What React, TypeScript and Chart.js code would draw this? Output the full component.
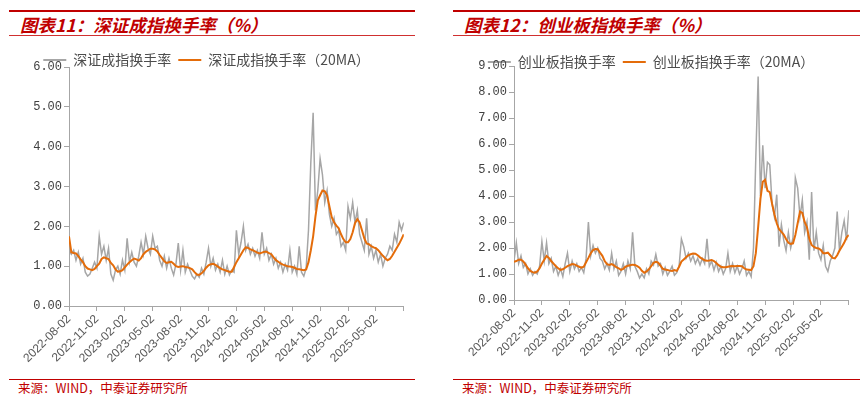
import React, { useEffect, useRef } from 'react';
import { Chart, registerables } from 'chart.js';

Chart.register(...registerables);

// points per quarter (x axis is measured in quarters since 2022-08-02)
const POINTS_PER_QUARTER = 12;

const xTickLabels = [
  '2022-08-02', '2022-11-02', '2023-02-02', '2023-05-02', '2023-08-02', '2023-11-02',
  '2024-02-02', '2024-05-02', '2024-08-02', '2024-11-02', '2025-02-02', '2025-05-02',
];

// 深证成指换手率 (%)
const szRaw = [
  1.4, 1.3, 1.4, 1.15, 1.35, 1.05, 1.2, 0.85, 0.75, 0.8, 0.95, 1.1,
  0.95, 1.75, 1.3, 1.5, 1.15, 1.45, 0.8, 0.65, 0.9, 1.0, 0.8, 1.15,
  0.9, 1.7, 1.1, 1.35, 1.1, 1.0, 1.25, 1.6, 1.3, 1.75, 1.45, 1.3,
  1.75, 1.45, 1.5, 1.15, 1.0, 1.25, 0.95, 1.2, 0.95, 0.78, 1.05, 1.58,
  0.9, 1.4, 0.85, 1.05, 0.9, 0.75, 0.68, 0.8, 0.72, 0.95, 0.8, 1.1,
  1.45, 1.0, 1.2, 0.9, 1.05, 0.85, 1.15, 0.8, 1.0, 0.78, 0.9, 0.85,
  1.9, 1.3, 1.6, 2.0, 1.4, 1.55, 1.3, 1.45, 1.25, 1.4, 1.2, 1.85,
  1.3, 1.45, 1.15, 1.3, 1.05, 1.2, 0.95, 1.1, 0.85, 1.05, 0.9, 1.4,
  0.85, 1.0, 0.8, 1.5, 0.85, 0.75, 0.95, 1.9, 3.6, 4.85, 2.4, 2.9,
  3.7, 3.3, 2.6, 2.9, 2.3, 2.0, 2.2, 1.8, 1.9, 1.5, 1.6, 1.4,
  2.5, 2.2, 2.6, 2.1, 2.4, 1.8, 1.6, 1.4, 2.2, 1.3, 1.5, 1.2,
  1.4, 1.1, 1.3, 1.0, 1.2, 1.3, 1.5, 1.4, 1.8, 1.6, 2.1, 1.9,
  2.1,
];

// 深证成指换手率 (20MA)
const szMA = [
  1.75, 1.35, 1.33, 1.32, 1.25, 1.17, 1.1, 1.0, 0.94, 0.92, 0.9, 0.93,
  1.0, 1.06, 1.18, 1.22, 1.2, 1.18, 1.08, 1.02, 0.92, 0.86, 0.87, 0.9,
  0.97, 1.04, 1.1, 1.15, 1.19, 1.17, 1.14, 1.2, 1.3, 1.36, 1.4, 1.44,
  1.44, 1.42, 1.37, 1.28, 1.2, 1.12, 1.08, 1.1, 1.11, 1.06, 1.0, 0.98,
  0.99, 1.0, 0.98, 0.97, 0.95, 0.92, 0.85, 0.79, 0.78, 0.82, 0.88, 0.96,
  1.02, 1.05, 1.06, 1.03, 0.99, 0.95, 0.92, 0.9, 0.88, 0.86, 0.86, 0.98,
  1.1, 1.2, 1.3, 1.4, 1.47, 1.46, 1.42, 1.4, 1.37, 1.34, 1.32, 1.34,
  1.36, 1.36, 1.33, 1.3, 1.22, 1.15, 1.11, 1.07, 1.04, 1.02, 1.0, 0.99,
  0.98, 0.96, 0.93, 0.92, 0.91, 0.9, 0.92, 1.1, 1.4, 1.75, 2.25, 2.65,
  2.78, 2.9, 2.88, 2.78, 2.5, 2.23, 2.1, 2.02, 1.95, 1.8, 1.68, 1.6,
  1.6, 1.68, 1.85, 2.08, 2.18, 2.1, 1.9, 1.7, 1.57, 1.55, 1.5, 1.47,
  1.45, 1.4, 1.33, 1.26, 1.2, 1.15, 1.18, 1.26, 1.36, 1.46, 1.56, 1.68,
  1.8,
];

// 创业板指换手率 (%)
const cybRaw = [
  1.5, 2.2, 1.4, 1.7, 1.25, 1.4, 1.0, 1.2, 0.95, 1.1, 1.0, 1.3,
  2.25, 1.5, 2.2, 1.4, 1.6, 1.1, 1.3, 0.95, 1.2, 0.9, 1.4, 1.8,
  1.1, 1.5, 1.2, 1.4, 1.1, 1.25, 1.05, 1.6, 3.0, 1.7, 2.1, 1.8,
  2.0, 1.6, 1.5, 1.2, 1.4, 1.15, 1.8, 1.2, 1.5, 0.95, 1.1, 1.4,
  1.0, 1.5, 1.2, 2.6, 1.3, 1.1, 0.85, 1.0, 0.85, 1.2, 1.0, 1.5,
  1.35, 1.75, 1.3, 1.4, 1.0, 1.25, 0.95, 1.1, 1.3, 0.95, 1.05, 1.3,
  2.35, 2.05, 1.6, 1.8, 1.5, 1.7, 1.4, 1.6, 1.35, 1.6, 1.4, 2.35,
  1.3, 1.5, 1.15, 1.45, 1.1, 1.3, 1.0, 1.2, 1.8, 1.1, 1.4, 1.05,
  1.3, 1.0, 1.2, 1.5, 0.95, 1.1, 0.9, 2.0, 5.5, 8.6, 4.0, 5.95,
  4.3, 5.3, 5.2, 3.7, 3.2, 4.05, 2.05, 2.9, 2.3, 1.9, 2.6, 2.0,
  2.4, 4.7, 4.3, 3.2, 3.85, 2.6, 3.0, 1.55, 4.15, 1.9, 2.6, 1.8,
  1.55, 2.1, 1.3, 1.1, 1.5, 1.7, 2.0, 3.4, 1.9, 2.6, 3.05, 2.3,
  3.45,
];

// 创业板指换手率 (20MA)
const cybMA = [
  1.47, 1.5, 1.55, 1.55, 1.48, 1.36, 1.22, 1.12, 1.07, 1.05, 1.1, 1.22,
  1.4, 1.55, 1.69, 1.62, 1.5, 1.4, 1.3, 1.22, 1.16, 1.18, 1.24, 1.3,
  1.34, 1.38, 1.37, 1.32, 1.28, 1.24, 1.28, 1.45, 1.62, 1.8, 1.92, 1.96,
  1.95, 1.82, 1.7, 1.5, 1.38, 1.35, 1.38, 1.33, 1.26, 1.22, 1.16, 1.2,
  1.28, 1.32, 1.34, 1.36, 1.35, 1.3, 1.24, 1.12, 1.05, 1.1, 1.18, 1.3,
  1.43, 1.47, 1.44, 1.32, 1.2, 1.17, 1.15, 1.13, 1.12, 1.15, 1.12, 1.28,
  1.48, 1.56, 1.64, 1.72, 1.76, 1.79, 1.78, 1.72, 1.64, 1.58, 1.53, 1.51,
  1.52, 1.54, 1.5, 1.42, 1.34, 1.28, 1.26, 1.26, 1.28, 1.3, 1.31, 1.3,
  1.31, 1.31, 1.3, 1.22, 1.17, 1.16, 1.15, 1.3, 1.8, 2.8, 3.9, 4.55,
  4.62, 4.2, 4.15, 3.7, 3.3, 2.95, 2.72, 2.62, 2.52, 2.35, 2.2, 2.16,
  2.18, 2.5, 2.95, 3.4, 3.35, 3.0, 2.8, 2.35, 2.12, 2.04, 2.0, 1.98,
  1.92, 1.8, 1.8, 1.82, 1.72, 1.62, 1.6, 1.72, 1.9, 2.05, 2.2, 2.4,
  2.5,
];

const RED = '#c00000';
const GRAY = '#a6a6a6';
const ORANGE = '#e46c0a';
const AXIS = '#a6a6a6';
const CJK = "'Noto Sans CJK SC', sans-serif";

type PanelProps = {
  left: number;
  width: number;
  title: string;
  rawName: string;
  maName: string;
  raw: number[];
  ma: number[];
  yMax: number;
  canvasTop: number;
  legendHeight: number;
  xAxisHeight: number;
  yAxisWidth: number;
};

function toPoints(values: number[]) {
  return values.map((y, i) => ({ x: i / POINTS_PER_QUARTER, y }));
}

// lets legend text overlap the top of the plot area (as in the reference) without clipping
const legendUnclip = {
  id: 'legendUnclip',
  afterLayout(chart: any) {
    const l = chart.legend;
    if (l) {
      l.height += 14;
      l.bottom += 14;
    }
  },
};

function Panel(p: PanelProps) {
  const ref = useRef<HTMLCanvasElement | null>(null);
  const canvasHeight = 372 - p.canvasTop;

  useEffect(() => {
    if (!ref.current) return;
    const chart = new Chart(ref.current, {
      type: 'line',
      data: {
        datasets: [
          {
            label: p.rawName,
            data: toPoints(p.raw),
            borderColor: GRAY,
            backgroundColor: GRAY,
            borderWidth: 1.5,
            pointRadius: 0,
            tension: 0,
            order: 2,
          },
          {
            label: p.maName,
            data: toPoints(p.ma),
            borderColor: ORANGE,
            backgroundColor: ORANGE,
            borderWidth: 2,
            pointRadius: 0,
            tension: 0,
            order: 1,
          },
        ],
      },
      plugins: [legendUnclip],
      options: {
        responsive: false,
        animation: false,
        devicePixelRatio: 1,
        layout: { padding: { top: 0, right: 11, bottom: 0, left: 0 } },
        plugins: {
          tooltip: { enabled: false },
          legend: {
            display: true,
            position: 'top',
            maxHeight: p.legendHeight,
            labels: {
              boxWidth: 23,
              boxHeight: 2,
              padding: 7,
              color: '#4d4d4d',
              font: { family: CJK, size: 14 },
              sort: (a: any, b: any) => a.datasetIndex - b.datasetIndex,
              generateLabels: (c: any) =>
                Chart.defaults.plugins.legend.labels
                  .generateLabels(c)
                  .map((l: any) => ({ ...l, lineWidth: 0, fillStyle: l.strokeStyle })),
            },
          },
        },
        scales: {
          x: {
            type: 'linear',
            min: 0,
            max: xTickLabels.length,
            afterFit: (s: any) => {
              s.height = p.xAxisHeight;
            },
            border: { color: AXIS, width: 1 },
            grid: { drawOnChartArea: false, drawTicks: true, tickLength: 5, tickColor: AXIS },
            ticks: {
              stepSize: 1,
              autoSkip: false,
              maxRotation: 45,
              minRotation: 45,
              padding: 1,
              color: '#595959',
              font: { family: "'Liberation Sans', Arial, sans-serif", size: 12 },
              callback: (v: any) => xTickLabels[Math.round(Number(v))] ?? '',
            },
          },
          y: {
            min: 0,
            max: p.yMax,
            afterFit: (s: any) => {
              s.width = p.yAxisWidth;
            },
            border: { color: AXIS, width: 1 },
            grid: { drawOnChartArea: false, drawTicks: true, tickLength: 5, tickColor: AXIS },
            ticks: {
              stepSize: 1,
              padding: 2,
              color: '#404040',
              font: { family: "'Liberation Mono', monospace", size: 12 },
              callback: (v: any) => Number(v).toFixed(2),
            },
          },
        },
      } as any,
    });
    return () => chart.destroy();
  }, []);

  return (
    <>
      <div style={{ position: 'absolute', left: p.left, top: 10, width: p.width, height: 2, background: RED }} />
      <div
        style={{
          position: 'absolute',
          left: p.left + 11,
          top: 15,
          height: 20,
          lineHeight: '20px',
          fontFamily: CJK,
          fontSize: 17.5,
          fontWeight: 700,
          fontStyle: 'italic',
          color: RED,
          whiteSpace: 'nowrap',
        }}
      >
        {p.title}
      </div>
      <div style={{ position: 'absolute', left: p.left, top: 35, width: p.width, height: 1, background: '#d03030' }} />
      <canvas
        ref={ref}
        width={p.width}
        height={canvasHeight}
        style={{ position: 'absolute', left: p.left, top: p.canvasTop, width: p.width, height: canvasHeight }}
      />
      <div style={{ position: 'absolute', left: p.left, top: 379, width: p.width, height: 1, background: RED }} />
      <div
        style={{
          position: 'absolute',
          left: p.left + 9,
          top: 381,
          height: 14,
          lineHeight: '14px',
          fontFamily: CJK,
          fontSize: 12.5,
          color: RED,
          whiteSpace: 'nowrap',
        }}
      >
        来源：WIND，中泰证券研究所
      </div>
    </>
  );
}

export default function App() {
  return (
    <div style={{ position: 'absolute', left: 0, top: 0, width: 865, height: 395, background: '#fff', overflow: 'hidden' }}>
      <Panel
        left={9}
        width={406}
        title="图表11：深证成指换手率（%）"
        rawName="深证成指换手率"
        maName="深证成指换手率（20MA）"
        raw={szRaw}
        ma={szMA}
        yMax={6}
        canvasTop={46}
        legendHeight={21}
        xAxisHeight={66}
        yAxisWidth={60}
      />
      <Panel
        left={453}
        width={407}
        title="图表12：创业板指换手率（%）"
        rawName="创业板指换手率"
        maName="创业板指换手率（20MA）"
        raw={cybRaw}
        ma={cybMA}
        yMax={9}
        canvasTop={48}
        legendHeight={18}
        xAxisHeight={72}
        yAxisWidth={61}
      />
    </div>
  );
}
